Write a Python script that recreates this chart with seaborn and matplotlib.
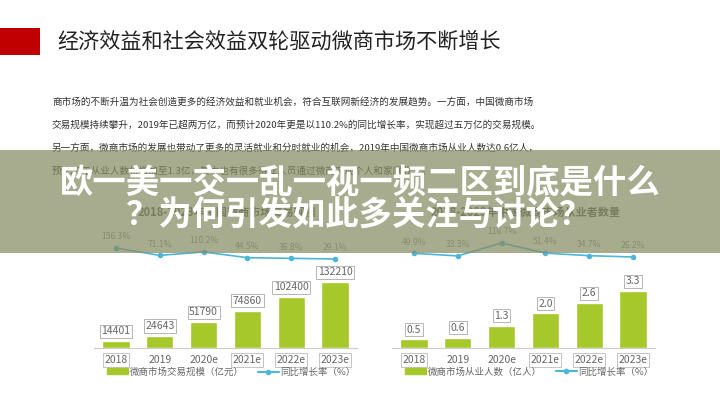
import numpy as np
import seaborn as sns
import matplotlib.pyplot as plt
from matplotlib.patches import Rectangle, Patch
from matplotlib.lines import Line2D

# ---- data ----
years = ["2018", "2019", "2020e", "2021e", "2022e", "2023e"]
trade_volume = [14401, 24643, 51790, 74860, 102400, 132210]      # 亿元
trade_growth = [156.3, 71.1, 110.2, 44.5, 36.8, 29.1]            # %
workers = [0.5, 0.6, 1.3, 2.0, 2.6, 3.3]                          # 亿人
worker_growth = [49.9, 33.3, 116.7, 51.4, 34.7, 26.2]            # %

page_title = "经济效益和社会效益双轮驱动微商市场不断增长"
body_lines = [
    "商市场的不断升温为社会创造更多的经济效益和就业机会，符合互联网新经济的发展趋势。一方面，中国微商市场",
    "交易规模持续攀升，2019年已超两万亿，而预计2020年更是以110.2%的同比增长率，实现超过五万亿的交易规模。",
    "另一方面，微商市场的发展也带动了更多的灵活就业和分时就业的机会，2019年中国微商市场从业人数达0.6亿人，",
    "预计20年从业人数将增加至1.3亿，其中也有很多待业人员通过微商实现个人和家庭收入。",
]
banner_lines = ["欧一美一交一乱一视一频二区到底是什么", "？为何引发如此多关注与讨论？"]
chart_titles = ["2018-2023年中国微商市场交易规模", "2018-2023年中国微商市场从业者数量"]
bar_labels = ["微商市场交易规模（亿元）", "微商市场从业人数（亿人）"]
line_label = "同比增长率（%）"

BAR = "#a6c82a"
LINE = "#4cb6da"
W, H = 720, 405

sns.set_style("white")
plt.rcParams['font.family'] = ['Noto Sans CJK SC', 'DejaVu Sans']

fig = plt.figure(figsize=(7.2, 4.05), dpi=100)


def fx(x):
    return x / W


def fy(y):
    return 1 - y / H


# header
fig.add_artist(Rectangle((0, fy(55)), fx(40), 27 / H, transform=fig.transFigure,
                         color="#c00000", lw=0))
fig.text(fx(57), fy(42), page_title, fontsize=15.2, color="#222222", va="center")
for i, line in enumerate(body_lines):
    fig.text(fx(52), fy(102 + i * 23), line, fontsize=6.9, color="#333333", va="center")


def draw_chart(x0, x1, bars, growth, fmt, bar_label, title, boxed):
    # bars: baseline at y=348 px, tallest bar 66/57 px high
    ax = fig.add_axes([fx(x0), fy(348), fx(x1 - x0), 118 / H])
    sns.barplot(x=years, y=bars, color=BAR, width=0.62, ax=ax, saturation=1)
    ax.set_xlim(-0.5, len(years) - 0.5)
    ax.set_ylim(0, max(bars) * 118 / (66 if max(bars) > 100 else 57))
    ax.set_yticks([])
    ax.set_xlabel("")
    ax.set_ylabel("")
    for s in ["top", "left", "right"]:
        ax.spines[s].set_visible(False)
    ax.spines["bottom"].set_color("#cccccc")
    ax.tick_params(axis="x", length=0, pad=5, labelsize=7.5, labelcolor="#666666")
    for i, t in enumerate(ax.get_xticklabels()):
        if i in boxed:
            t.set_bbox(dict(boxstyle="square,pad=0.15", fc="white", ec="#bbbbbb", lw=0.6))
    for i, v in enumerate(bars):
        ax.annotate(fmt(v), (i, v), xytext=(0, 7), textcoords="offset points",
                    ha="center", va="center", fontsize=7.5, color="#666666",
                    bbox=dict(boxstyle="square,pad=0.15", fc="white", ec="#aaaaaa", lw=0.6))

    # growth line on its own scale, sitting in a thin band above the bars
    ax2 = ax.twinx()
    g = np.array(growth)
    lo_px, hi_px = 259 if max(g) > 150 else 257, 248 if max(g) > 150 else 243
    slope = (lo_px - hi_px) / (g.max() - g.min())
    base = lo_px + g.min() * slope
    ax2.set_ylim((base - 348) / slope, (base - 230) / slope)
    sns.lineplot(x=np.arange(len(years)), y=growth, color=LINE, lw=1.2, marker="o",
                 markersize=4, markeredgewidth=0, ax=ax2)
    ax2.set_yticks([])
    for s in ax2.spines.values():
        s.set_visible(False)
    for i, v in enumerate(growth):
        ax2.annotate(f"{v}%", (i, v), xytext=(0, 8), textcoords="offset points",
                     ha="center", va="center", fontsize=6.2, color="#8a8a8a")

    fig.text(fx((x0 + x1) / 2 + 2), fy(212), title, fontsize=8, fontweight="bold",
             color="#555555", ha="center", va="center")
    handles = [Patch(color=BAR), Line2D([], [], color=LINE, marker="o", markersize=3)]
    ax.legend(handles, [bar_label, line_label], ncol=2, frameon=False,
              loc="center", bbox_to_anchor=(fx((x0 + x1) / 2 + 6), fy(372)),
              bbox_transform=fig.transFigure, fontsize=6.8, labelcolor="#666666",
              handlelength=2.2, handleheight=0.6, columnspacing=1.5, handletextpad=0.2)
    return ax


draw_chart(94, 357, trade_volume, trade_growth, lambda v: f"{v}", bar_labels[0],
           chart_titles[0], {0, 3, 4, 5})
draw_chart(392, 655, workers, worker_growth, lambda v: f"{v:.1f}", bar_labels[1],
           chart_titles[1], {0, 3, 4, 5})

# translucent banner over the slide
fig.add_artist(Rectangle((0, fy(253)), 1, 103 / H, transform=fig.transFigure,
                         color="#878c62", alpha=0.72, lw=0, zorder=10))
for i, line in enumerate(banner_lines):
    fig.text(0.5, fy(184 + i * 32), line, fontsize=24, fontweight="bold", color="white",
             ha="center", va="center", zorder=11)

fig.savefig("out.png", dpi=100, facecolor="white")
